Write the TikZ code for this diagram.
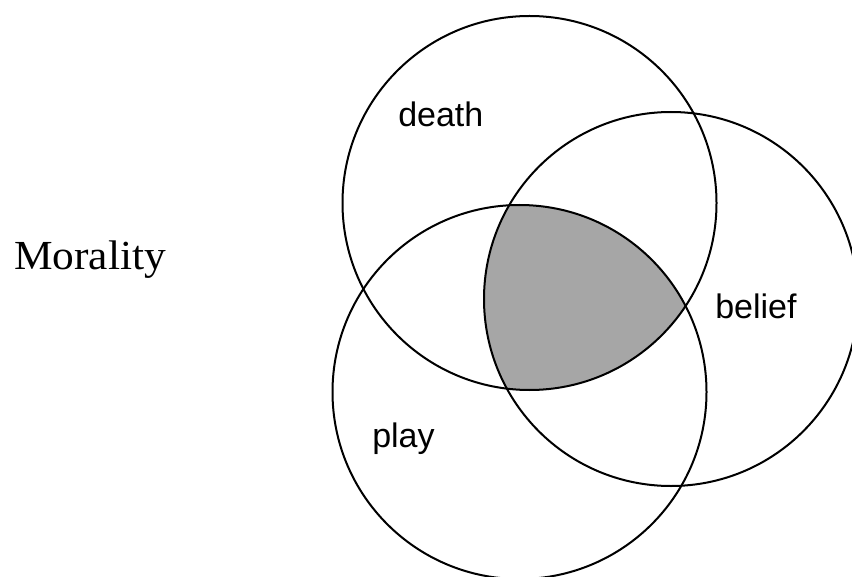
\documentclass[tikz,border=0pt]{standalone}
\usepackage{fontspec}
\newfontfamily\labelfont{Liberation Sans}
\newfontfamily\titlefont{Liberation Serif}
\definecolor{overlap}{HTML}{A6A6A6}

\begin{document}
\begin{tikzpicture}[x=0.75pt, y=-0.75pt,
    ring/.style={draw=black, line width=1.5pt},
    setlabel/.style={anchor=base west, inner sep=0pt,
                     font=\labelfont\fontsize{25.5}{30}\selectfont},
]
\useasboundingbox (0,0) rectangle (852,577);

% Centres of the three sets
\coordinate (cdeath)  at (529.5,203);
\coordinate (cbelief) at (671,299);
\coordinate (cplay)   at (519.5,392);

% Common part of all three
\begin{scope}
    \clip (cdeath) circle[radius=187];
    \clip (cbelief) circle[radius=187];
    \fill[overlap] (cplay) circle[radius=187];
\end{scope}

% Circles
\draw[ring] (cdeath)  circle[radius=187];
\draw[ring] (cbelief) circle[radius=187];
\draw[ring] (cplay)   circle[radius=187];

% Labels
\node[setlabel] (death)  at (398,127) {death};
\node[setlabel] (belief) at (715,318) {belief};
\node[setlabel] (play)   at (372,447) {play};

\node[anchor=base, inner sep=0pt, xscale=1.05,
      font=\titlefont\fontsize{31}{36}\selectfont]
    (morality) at (90,269) {Morality};

\end{tikzpicture}
\end{document}
